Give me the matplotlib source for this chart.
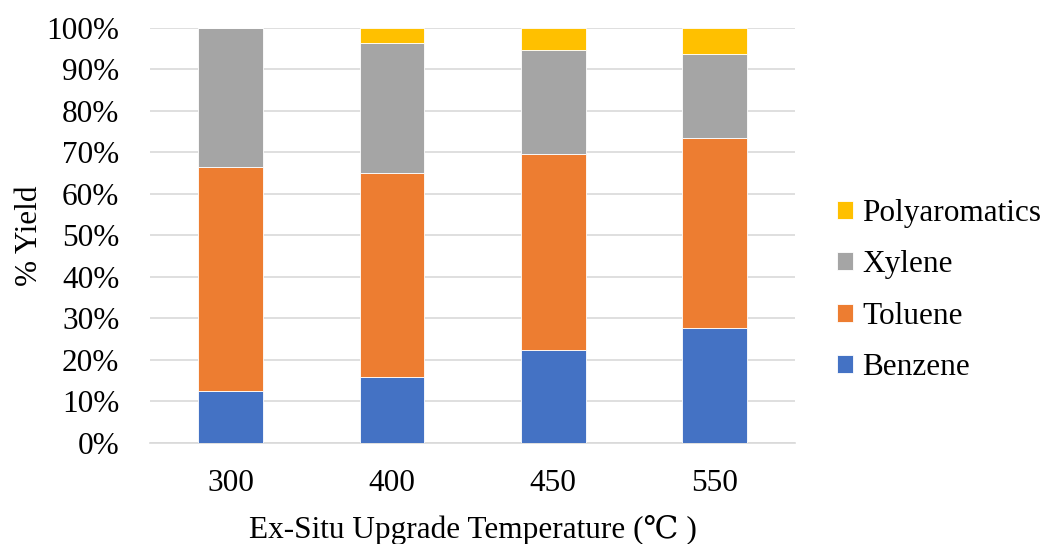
import numpy as np
import matplotlib
matplotlib.use("Agg")
import matplotlib.pyplot as plt

# yield fractions (%) per upgrade temperature
temperatures = ["300", "400", "450", "550"]
benzene = [12.4, 16.0, 22.5, 27.8]
toluene = [54.1, 49.0, 47.2, 45.7]
xylene = [33.5, 31.3, 24.9, 20.1]
polyaromatics = [0.0, 3.7, 5.4, 6.4]

series = [
    ("Benzene", benzene, "#4472C4"),
    ("Toluene", toluene, "#ED7D31"),
    ("Xylene", xylene, "#A5A5A5"),
    ("Polyaromatics", polyaromatics, "#FFC000"),
]

plt.rcParams['font.family'] = ['Liberation Serif', 'DejaVu Serif', 'Noto Sans CJK SC']
FS = 22.5

fig = plt.figure(figsize=(10.45, 5.44), dpi=100)
ax = fig.add_axes([0.1435, 0.1857, 0.6175, 0.7633])

x = np.arange(len(temperatures))
bottom = np.zeros(len(temperatures))
handles = []
for name, vals, color in series:
    vals = np.array(vals)
    b = ax.bar(x, vals, 0.4, bottom=bottom, color=color, edgecolor="white",
               linewidth=0.6, label=name, zorder=3)
    handles.append(b)
    bottom += vals

ax.set_xlim(-0.5, len(temperatures) - 0.5)
ax.set_ylim(0, 100)
ax.set_yticks(np.arange(0, 101, 10))
ax.set_yticklabels([f"{v}%" for v in range(0, 101, 10)])
ax.set_xticks(x)
ax.set_xticklabels(temperatures)
ax.tick_params(length=0, labelsize=FS, colors="black")
ax.tick_params(axis="y", pad=22)
ax.tick_params(axis="x", pad=19)

ax.grid(axis="y", color="#D9D9D9", linewidth=1.2, zorder=0)
for side in ["top", "right", "left"]:
    ax.spines[side].set_visible(False)
ax.spines["bottom"].set_color("#D9D9D9")
ax.spines["bottom"].set_linewidth(1.2)

ax.set_ylabel("% Yield", fontsize=FS, labelpad=2)
ax.set_xlabel("Ex-Situ Upgrade Temperature (\u2103 )", fontsize=FS, labelpad=12)

leg = fig.legend(handles[::-1], [s[0] for s in series][::-1],
                 loc="center left", bbox_to_anchor=(0.801, 0.466),
                 frameon=False, fontsize=FS, handlelength=0.5,
                 handleheight=0.5, handletextpad=0.3, labelspacing=0.72,
                 borderpad=0, borderaxespad=0)

fig.savefig("out.png", dpi=100)
